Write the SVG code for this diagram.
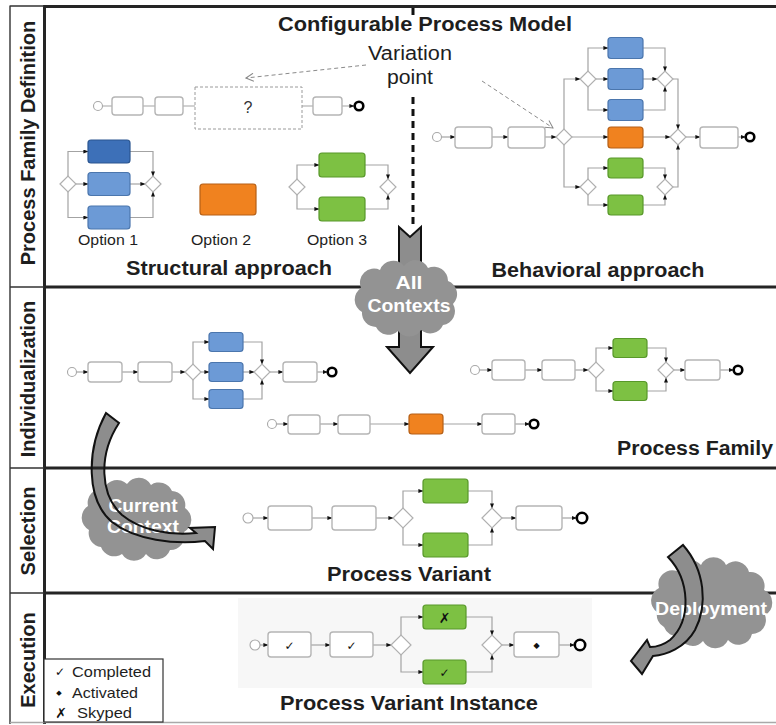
<svg xmlns="http://www.w3.org/2000/svg" width="776" height="725" viewBox="0 0 776 725">
<style>
 .task{fill:#fff;stroke:#b5b5b5;stroke-width:1.4}
 .blue{fill:#6c9ad6;stroke:#4b76ad;stroke-width:1.2}
 .dblue{fill:#3d70b8;stroke:#2a5590;stroke-width:1.2}
 .orange{fill:#f0821f;stroke:#b55f16;stroke-width:1.2}
 .green{fill:#7dc143;stroke:#58982a;stroke-width:1.2}
 .gw{fill:#fff;stroke:#b0b0b0;stroke-width:1.2}
 .start{fill:#fff;stroke:#a8a8a8;stroke-width:1.1}
 .end{fill:#fff;stroke:#000;stroke-width:2.6}
 .flow{fill:none;stroke:#a3a3a3;stroke-width:1.2;marker-end:url(#tip)}
 .frame{stroke:#252525;stroke-width:3;fill:none}
 .thin{stroke:#333;stroke-width:1.4;fill:none}
 .sans{font-family:"Liberation Sans",Arial,sans-serif}
 .bold{font-family:"Liberation Sans",Arial,sans-serif;font-weight:bold;font-size:20px;fill:#1e1e1e;text-anchor:middle}
 .reg{font-family:"Liberation Sans",Arial,sans-serif;font-size:15px;fill:#1e1e1e}
 .ctext{font-family:"Liberation Sans",Arial,sans-serif;font-weight:bold;font-size:18px;fill:#fff;text-anchor:middle}
 .cloud{fill:#939393;stroke:none}
 .mark{font-family:"DejaVu Sans",sans-serif;fill:#111;text-anchor:middle}
</style>
<defs>
 <marker id="tip" markerWidth="5" markerHeight="4" refX="4.6" refY="2" orient="auto" markerUnits="userSpaceOnUse">
  <path d="M0,0 L5,2 L0,4 z" fill="#111"/>
 </marker>
 <marker id="open" markerWidth="9" markerHeight="9" refX="8" refY="4.5" orient="auto" markerUnits="userSpaceOnUse">
  <path d="M0.5,0.5 L8,4.5 L0.5,8.5" fill="none" stroke="#8a8a8a" stroke-width="1"/>
 </marker>
 <!-- curved block arrows, drawn twice: body under the cloud text, outline above it -->
 <path id="curArrow" d="M106,413 C86,450 86,500 112,522 C135,540 175,545 205,541 L213,549 L215,527 L190,528 L196,533 C170,536 140,530 122,515 C100,495 98,455 119,423 Z"/>
 <path id="depArrow" d="M668,557 C690,580 692,620 670,640 C662,646 655,647 650,647 L647,640 L631,661 L642,674 L653,656 C666,655 685,648 695,630 C708,605 705,570 683,545 Z"/>
</defs>

<rect width="776" height="725" fill="#fff"/>
<rect x="238" y="598" width="354" height="90" fill="#f7f7f7"/>

<!-- Current Context cloud and arrow (under the lane line) -->
<g id="cloud-current">
 <path class="cloud" d="M89,530 A14,14 0 0 1 88,506 A14,14 0 0 1 104,489 A14,14 0 0 1 127,484 A14,14 0 0 1 151,485 A14,14 0 0 1 172,491 A14,14 0 0 1 185,508 A14,14 0 0 1 184,532 A14,14 0 0 1 170,550 A14,14 0 0 1 146,554 A14,14 0 0 1 122,554 A14,14 0 0 1 101,547 A14,14 0 0 1 89,530 Z"/>
 <use href="#curArrow" fill="#8d8d8d" stroke="none"/>
</g>

<!-- lane frame -->
<g id="frame">
 <path class="frame" d="M44,6.5 H776 M44,287 H776 M44,468 H776 M44,593 H776 M44.5,5 V724"/>
 <path class="thin" d="M10,6 H44 M10,5.5 V724 M10,287 H44 M10,468 H44 M10,593 H44"/>
 <path d="M10,722.5 H776" stroke="#a9a9a9" stroke-width="1.5"/>
</g>

<!-- connectors -->
<g id="connectors">
 <path class="flow" d="M103,106 H112 M143,106 H155 M183,106 H195 M302,106 H313 M342,106 H354"/>
 <path class="flow" d="M68,176 V151.5 H88"/><path class="flow" d="M76,184 H88"/><path class="flow" d="M68,192 V217.5 H88"/>
 <path class="flow" d="M130,151.5 H153 V176"/><path class="flow" d="M130,184 H145"/><path class="flow" d="M130,217.5 H153 V192"/>
 <path class="flow" d="M297,179 V165 H319"/><path class="flow" d="M297,195 V209 H319"/>
 <path class="flow" d="M365,165 H388 V179"/><path class="flow" d="M365,209 H388 V195"/>
 <path class="flow" d="M441.5,137 H455"/><path class="flow" d="M492,137 H508"/><path class="flow" d="M545,137 H556"/>
 <path class="flow" d="M564,129 V79 H580"/><path class="flow" d="M564,145 V187 H580"/><path class="flow" d="M572,137 H608"/>
 <path class="flow" d="M588,71 V48 H608"/><path class="flow" d="M596,79 H608"/><path class="flow" d="M588,87 V110 H608"/>
 <path class="flow" d="M588,179 V168 H608"/><path class="flow" d="M588,195 V205 H608"/>
 <path class="flow" d="M643,48 H665 V71"/><path class="flow" d="M643,79 H657"/><path class="flow" d="M643,110 H665 V87"/>
 <path class="flow" d="M643,168 H665 V179"/><path class="flow" d="M643,205 H665 V195"/>
 <path class="flow" d="M673,79 H678 V129"/><path class="flow" d="M673,187 H678 V145"/><path class="flow" d="M643,137 H670"/>
 <path class="flow" d="M686,137 H700"/><path class="flow" d="M738,137 H745.5"/>
 <path class="flow" d="M76.5,372 H88"/><path class="flow" d="M122,372 H138"/><path class="flow" d="M172,372 H185"/>
 <path class="flow" d="M193,364 V342 H209"/><path class="flow" d="M201,372 H209"/><path class="flow" d="M193,380 V399 H209"/>
 <path class="flow" d="M243,342 H262 V364"/><path class="flow" d="M243,372 H254"/><path class="flow" d="M243,399 H262 V380"/>
 <path class="flow" d="M270,372 H283"/><path class="flow" d="M317,372 H327.5"/>
 <path class="flow" d="M479.5,370 H492"/><path class="flow" d="M525,370 H542"/><path class="flow" d="M575,370 H588"/>
 <path class="flow" d="M596,362 V348 H613"/><path class="flow" d="M596,378 V391 H613"/>
 <path class="flow" d="M647,348 H666 V362"/><path class="flow" d="M647,391 H666 V378"/>
 <path class="flow" d="M674,370 H685"/><path class="flow" d="M720,370 H733.5"/>
 <path class="flow" d="M276.5,424 H288"/><path class="flow" d="M320,424 H338"/><path class="flow" d="M370,424 H409"/>
 <path class="flow" d="M443,424 H482"/><path class="flow" d="M515,424 H529.5"/>
 <path class="flow" d="M253,518 H268"/><path class="flow" d="M312,518 H332"/><path class="flow" d="M376,518 H393"/>
 <path class="flow" d="M403,508 V491 H423"/><path class="flow" d="M403,528 V545 H423"/>
 <path class="flow" d="M468,491 H492 V508"/><path class="flow" d="M468,545 H492 V528"/>
 <path class="flow" d="M502,518 H516"/><path class="flow" d="M562,518 H576.5"/>
 <path class="flow" d="M260,645 H268"/><path class="flow" d="M311,645 H330"/><path class="flow" d="M373,645 H391"/>
 <path class="flow" d="M401,635 V617 H423"/><path class="flow" d="M401,655 V672 H423"/>
 <path class="flow" d="M466,617 H492 V635"/><path class="flow" d="M466,672 H492 V655"/>
 <path class="flow" d="M502,645 H514"/><path class="flow" d="M559,645 H574.5"/>
 <!-- variation point annotations -->
 <path d="M366,65 L246,78" fill="none" stroke="#8a8a8a" stroke-width="1" stroke-dasharray="4 3" marker-end="url(#open)"/>
 <path d="M482,81 L553,128" fill="none" stroke="#8a8a8a" stroke-width="1" stroke-dasharray="4 3" marker-end="url(#open)"/>
 <path d="M413,8 V20 M413,97 V226" fill="none" stroke="#111" stroke-width="3" stroke-dasharray="7 5"/>
</g>

<!-- structural approach: skeleton with variation point -->
<g id="s-start"><circle class="start" cx="98" cy="106" r="4.5"/></g>
<g id="s-t1"><rect class="task" x="112" y="97" width="31" height="18" rx="3"/></g>
<g id="s-t2"><rect class="task" x="155" y="97" width="28" height="18" rx="3"/></g>
<g id="s-vp"><rect x="195" y="87" width="107" height="42" fill="#fff" stroke="#9a9a9a" stroke-width="1" stroke-dasharray="3 2"/>
 <text class="sans" x="248" y="113" font-size="16" fill="#333" text-anchor="middle">?</text></g>
<g id="s-t3"><rect class="task" x="313" y="97" width="29" height="18" rx="3"/></g>
<g id="s-end"><circle class="end" cx="359" cy="106" r="4.3"/></g>

<!-- option 1 -->
<g id="o1-split"><polygon class="gw" points="60,184 68,176 76,184 68,192"/></g>
<g id="o1-a"><rect class="dblue" x="88" y="140" width="42" height="23" rx="3"/></g>
<g id="o1-b"><rect class="blue" x="88" y="172.5" width="42" height="23" rx="3"/></g>
<g id="o1-c"><rect class="blue" x="88" y="206" width="42" height="23" rx="3"/></g>
<g id="o1-join"><polygon class="gw" points="145,184 153,176 161,184 153,192"/></g>
<!-- option 2 -->
<g id="o2-a"><rect class="orange" x="200" y="184" width="56" height="31" rx="3"/></g>
<!-- option 3 -->
<g id="o3-split"><polygon class="gw" points="289,187 297,179 305,187 297,195"/></g>
<g id="o3-a"><rect class="green" x="319" y="153" width="46" height="24" rx="3"/></g>
<g id="o3-b"><rect class="green" x="319" y="197" width="46" height="24" rx="3"/></g>
<g id="o3-join"><polygon class="gw" points="380,187 388,179 396,187 388,195"/></g>

<!-- behavioral approach -->
<g id="b-start"><circle class="start" cx="437" cy="137" r="4.5"/></g>
<g id="b-t1"><rect class="task" x="455" y="127" width="37" height="21" rx="3"/></g>
<g id="b-t2"><rect class="task" x="508" y="127" width="37" height="21" rx="3"/></g>
<g id="b-split"><polygon class="gw" points="556,137 564,129 572,137 564,145"/></g>
<g id="b-usplit"><polygon class="gw" points="580,79 588,71 596,79 588,87"/></g>
<g id="b-blue1"><rect class="blue" x="608" y="37.5" width="35" height="21" rx="3"/></g>
<g id="b-blue2"><rect class="blue" x="608" y="68.5" width="35" height="21" rx="3"/></g>
<g id="b-blue3"><rect class="blue" x="608" y="99.5" width="35" height="21" rx="3"/></g>
<g id="b-orange"><rect class="orange" x="608" y="127" width="35" height="21" rx="3"/></g>
<g id="b-dsplit"><polygon class="gw" points="580,187 588,179 596,187 588,195"/></g>
<g id="b-green1"><rect class="green" x="608" y="158" width="35" height="20" rx="3"/></g>
<g id="b-green2"><rect class="green" x="608" y="195" width="35" height="20" rx="3"/></g>
<g id="b-ujoin"><polygon class="gw" points="657,79 665,71 673,79 665,87"/></g>
<g id="b-djoin"><polygon class="gw" points="657,187 665,179 673,187 665,195"/></g>
<g id="b-join"><polygon class="gw" points="670,137 678,129 686,137 678,145"/></g>
<g id="b-t3"><rect class="task" x="700" y="127" width="38" height="21" rx="3"/></g>
<g id="b-end"><circle class="end" cx="750" cy="137" r="4.3"/></g>

<!-- process family: variant with blue options -->
<g id="f1-start"><circle class="start" cx="72" cy="372" r="4.5"/></g>
<g id="f1-t1"><rect class="task" x="88" y="362" width="34" height="20" rx="3"/></g>
<g id="f1-t2"><rect class="task" x="138" y="362" width="34" height="20" rx="3"/></g>
<g id="f1-split"><polygon class="gw" points="185,372 193,364 201,372 193,380"/></g>
<g id="f1-blue1"><rect class="blue" x="209" y="332.5" width="34" height="19" rx="3"/></g>
<g id="f1-blue2"><rect class="blue" x="209" y="362.5" width="34" height="19" rx="3"/></g>
<g id="f1-blue3"><rect class="blue" x="209" y="389.5" width="34" height="19" rx="3"/></g>
<g id="f1-join"><polygon class="gw" points="254,372 262,364 270,372 262,380"/></g>
<g id="f1-t3"><rect class="task" x="283" y="362" width="34" height="20" rx="3"/></g>
<g id="f1-end"><circle class="end" cx="332" cy="372" r="4.3"/></g>

<!-- process family: variant with green options -->
<g id="f2-start"><circle class="start" cx="475" cy="370" r="4.5"/></g>
<g id="f2-t1"><rect class="task" x="492" y="360" width="33" height="20" rx="3"/></g>
<g id="f2-t2"><rect class="task" x="542" y="360" width="33" height="20" rx="3"/></g>
<g id="f2-split"><polygon class="gw" points="588,370 596,362 604,370 596,378"/></g>
<g id="f2-green1"><rect class="green" x="613" y="338.5" width="34" height="19" rx="3"/></g>
<g id="f2-green2"><rect class="green" x="613" y="381.5" width="34" height="19" rx="3"/></g>
<g id="f2-join"><polygon class="gw" points="658,370 666,362 674,370 666,378"/></g>
<g id="f2-t3"><rect class="task" x="685" y="360" width="35" height="20" rx="3"/></g>
<g id="f2-end"><circle class="end" cx="738" cy="370" r="4.3"/></g>

<!-- process family: variant with orange task -->
<g id="f3-start"><circle class="start" cx="272" cy="424" r="4.5"/></g>
<g id="f3-t1"><rect class="task" x="288" y="415" width="32" height="19" rx="3"/></g>
<g id="f3-t2"><rect class="task" x="338" y="415" width="32" height="19" rx="3"/></g>
<g id="f3-orange"><rect class="orange" x="409" y="414" width="34" height="20" rx="3"/></g>
<g id="f3-t3"><rect class="task" x="482" y="414" width="33" height="20" rx="3"/></g>
<g id="f3-end"><circle class="end" cx="534" cy="424" r="4.3"/></g>

<!-- selected process variant -->
<g id="v-start"><circle class="start" cx="248" cy="518" r="5"/></g>
<g id="v-t1"><rect class="task" x="268" y="506" width="44" height="24" rx="3"/></g>
<g id="v-t2"><rect class="task" x="332" y="506" width="44" height="24" rx="3"/></g>
<g id="v-split"><polygon class="gw" points="393,518 403,508 413,518 403,528"/></g>
<g id="v-green1"><rect class="green" x="423" y="479" width="45" height="24" rx="3"/></g>
<g id="v-green2"><rect class="green" x="423" y="533" width="45" height="24" rx="3"/></g>
<g id="v-join"><polygon class="gw" points="482,518 492,508 502,518 492,528"/></g>
<g id="v-t3"><rect class="task" x="516" y="506" width="46" height="24" rx="3"/></g>
<g id="v-end"><circle class="end" cx="582" cy="518" r="5.2" stroke-width="3"/></g>

<!-- running variant instance -->
<g id="x-start"><circle class="start" cx="255" cy="645" r="5"/></g>
<g id="x-t1"><rect class="task" x="268" y="632" width="43" height="25" rx="3"/><text class="mark" x="289.5" y="650" font-size="12">✓</text></g>
<g id="x-t2"><rect class="task" x="330" y="632" width="43" height="25" rx="3"/><text class="mark" x="351.5" y="650" font-size="12">✓</text></g>
<g id="x-split"><polygon class="gw" points="391,645 401,635 411,645 401,655"/></g>
<g id="x-green1"><rect class="green" x="423" y="605" width="43" height="24" rx="3"/><text class="mark" x="444.5" y="623" font-size="14" font-weight="bold">✗</text></g>
<g id="x-green2"><rect class="green" x="423" y="660" width="43" height="24" rx="3"/><text class="mark" x="444.5" y="677" font-size="12">✓</text></g>
<g id="x-join"><polygon class="gw" points="482,645 492,635 502,645 492,655"/></g>
<g id="x-t3"><rect class="task" x="514" y="632" width="45" height="25" rx="3"/><text class="mark" x="536.5" y="648" font-size="8">◆</text></g>
<g id="x-end"><circle class="end" cx="580" cy="645" r="5.2" stroke-width="3"/></g>

<!-- All Contexts: straight block arrow behind cloud -->
<g id="all-contexts">
 <path d="M399,227 L410,237 L421,227 L421,347 L433,347 L410,373 L387,347 L399,347 Z" fill="#8d8d8d" stroke="#111" stroke-width="2"/>
 <path class="cloud" d="M362,312 A14,14 0 0 1 361,288 A14,14 0 0 1 380,270 A14,14 0 0 1 404,266 A14,14 0 0 1 428,268 A14,14 0 0 1 448,281 A14,14 0 0 1 453,304 A14,14 0 0 1 443,325 A14,14 0 0 1 421,330 A14,14 0 0 1 398,331 A14,14 0 0 1 376,327 A14,14 0 0 1 362,312 Z"/>
 <text class="ctext" x="409" y="289" textLength="27" lengthAdjust="spacingAndGlyphs">All</text>
 <text class="ctext" x="409" y="312" textLength="83" lengthAdjust="spacingAndGlyphs">Contexts</text>
</g>

<!-- Deployment cloud and arrow -->
<g id="deployment">
 <path class="cloud" d="M657,612 A14,14 0 0 1 659,588 A14,14 0 0 1 677,571 A14,14 0 0 1 701,565 A14,14 0 0 1 726,565 A14,14 0 0 1 749,572 A14,14 0 0 1 764,590 A14,14 0 0 1 765,615 A14,14 0 0 1 752,634 A14,14 0 0 1 728,640 A14,14 0 0 1 703,641 A14,14 0 0 1 679,636 A14,14 0 0 1 664,627 A14,14 0 0 1 657,612 Z"/>
 <use href="#depArrow" fill="#8d8d8d" stroke="none"/>
 <text class="ctext" x="711" y="615" textLength="112" lengthAdjust="spacingAndGlyphs">Deployment</text>
 <use href="#depArrow" fill="none" stroke="#111" stroke-width="2"/>
</g>

<g id="current-context-label">
 <text class="ctext" x="143" y="512" textLength="69" lengthAdjust="spacingAndGlyphs">Current</text>
 <text class="ctext" x="143" y="533" textLength="72" lengthAdjust="spacingAndGlyphs">Context</text>
 <use href="#curArrow" fill="none" stroke="#111" stroke-width="2"/>
</g>

<!-- headings -->
<g id="headings">
 <text class="bold" x="425" y="31" textLength="294" lengthAdjust="spacingAndGlyphs">Configurable Process Model</text>
 <text class="sans" x="410" y="60" font-size="20" fill="#1e1e1e" text-anchor="middle" textLength="84" lengthAdjust="spacingAndGlyphs">Variation</text>
 <text class="sans" x="410" y="84" font-size="20" fill="#1e1e1e" text-anchor="middle" textLength="46" lengthAdjust="spacingAndGlyphs">point</text>
 <text class="reg" x="108" y="245" text-anchor="middle" textLength="60" lengthAdjust="spacingAndGlyphs">Option 1</text>
 <text class="reg" x="221" y="245" text-anchor="middle" textLength="60" lengthAdjust="spacingAndGlyphs">Option 2</text>
 <text class="reg" x="337" y="245" text-anchor="middle" textLength="60" lengthAdjust="spacingAndGlyphs">Option 3</text>
 <text class="bold" x="229" y="275" textLength="206" lengthAdjust="spacingAndGlyphs">Structural approach</text>
 <text class="bold" x="598" y="277" textLength="213" lengthAdjust="spacingAndGlyphs">Behavioral approach</text>
 <text class="bold" x="695" y="455" textLength="156" lengthAdjust="spacingAndGlyphs">Process Family</text>
 <text class="bold" x="409" y="581" textLength="164" lengthAdjust="spacingAndGlyphs">Process Variant</text>
 <text class="bold" x="409" y="710" textLength="258" lengthAdjust="spacingAndGlyphs">Process Variant Instance</text>
</g>

<!-- lane labels -->
<g id="lane-labels">
 <text class="bold" transform="translate(35,143) rotate(-90)">Process Family Definition</text>
 <text class="bold" transform="translate(35,379) rotate(-90)">Individualization</text>
 <text class="bold" transform="translate(35,531) rotate(-90)">Selection</text>
 <text class="bold" transform="translate(35,660) rotate(-90)">Execution</text>
</g>

<!-- legend -->
<g id="legend">
 <rect x="44" y="659" width="119" height="63" fill="#fff" stroke="#333" stroke-width="1.2"/>
 <text class="mark" x="60" y="676" font-size="12">✓</text>
 <text class="reg" x="72" y="677" textLength="79" lengthAdjust="spacingAndGlyphs">Completed</text>
 <text class="mark" x="59" y="695" font-size="7">◆</text>
 <text class="reg" x="72" y="698" textLength="66" lengthAdjust="spacingAndGlyphs">Activated</text>
 <text class="mark" x="61" y="718" font-size="14" font-weight="bold">✗</text>
 <text class="reg" x="77" y="718" textLength="55" lengthAdjust="spacingAndGlyphs">Skyped</text>
</g>
</svg>
